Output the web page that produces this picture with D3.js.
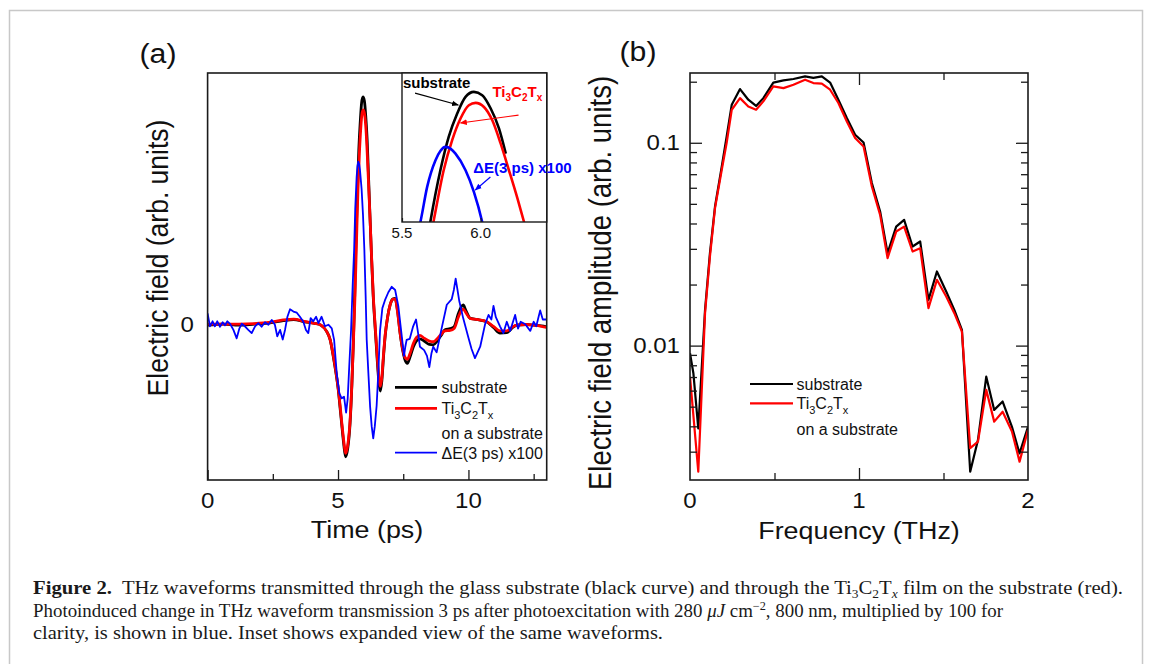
<!DOCTYPE html>
<html><head><meta charset="utf-8">
<script src="https://cdn.jsdelivr.net/npm/d3@7"></script>
<style>body{margin:0;background:#fff} svg{display:block} text{white-space:pre}</style>
</head><body><svg id="c" width="1152" height="664"></svg>
<script>
// ---------- DATA ----------
// Panel (a): waveforms (arb. units, normalized to substrate peak)
const timeSub = [0,0.6,1.2,1.8,2.4,2.9,3.3,3.7,4.1,4.35,4.55,4.7,4.82,4.92,5.01,5.08,5.14,5.22,5.29,5.37,5.46,5.53,5.59,5.64,5.68,5.744,5.797,5.851,5.904,5.957,6.01,6.064,6.117,6.16,6.22,6.29,6.35,6.42,6.51,6.57,6.62,6.68,6.74,6.81,6.9,7.0,7.1,7.19,7.28,7.38,7.47,7.56,7.66,7.76,7.89,8.0,8.14,8.3,8.5,8.65,8.8,8.95,9.1,9.3,9.45,9.61,9.72,9.8,9.9,10.06,10.32,10.7,10.96,11.21,11.47,11.7,11.85,12.2,12.49,12.8,13];
const eSub = [-0.005,0,-0.005,0,0.005,0.015,0.02,0.01,0.003,-0.005,-0.03,-0.07,-0.144,-0.215,-0.29,-0.37,-0.44,-0.53,-0.585,-0.55,-0.44,-0.27,-0.07,0.13,0.326,0.594,0.767,0.888,0.974,1.0,0.983,0.914,0.81,0.68,0.49,0.28,0.12,-0.01,-0.17,-0.26,-0.295,-0.25,-0.15,-0.05,0.03,0.085,0.11,0.113,0.06,-0.04,-0.11,-0.155,-0.173,-0.145,-0.10,-0.075,-0.065,-0.075,-0.09,-0.092,-0.075,-0.05,-0.025,-0.02,-0.012,0.045,0.075,0.084,0.06,0.026,0.02,0.01,-0.015,-0.04,-0.038,-0.015,-0.005,-0.002,-0.005,-0.008,-0.012];
const timeTi = [0,0.6,1.2,1.8,2.4,2.9,3.3,3.7,4.1,4.35,4.55,4.7,4.82,4.92,5.01,5.08,5.14,5.22,5.29,5.37,5.46,5.53,5.59,5.65,5.70,5.765,5.819,5.872,5.925,5.968,6.021,6.074,6.127,6.18,6.234,6.276,6.35,6.42,6.51,6.57,6.62,6.68,6.74,6.81,6.9,7.0,7.1,7.19,7.28,7.38,7.47,7.56,7.66,7.76,7.89,8.0,8.14,8.3,8.5,8.65,8.8,8.95,9.1,9.3,9.45,9.61,9.72,9.8,9.9,10.06,10.32,10.7,10.96,11.21,11.47,11.7,11.85,12.2,12.49,12.8,13];
const eTi = [0,0,0,0.002,0.008,0.018,0.022,0.012,0.003,-0.005,-0.03,-0.07,-0.14,-0.21,-0.285,-0.36,-0.43,-0.515,-0.57,-0.535,-0.43,-0.265,-0.08,0.12,0.326,0.594,0.75,0.862,0.931,0.943,0.922,0.853,0.733,0.594,0.448,0.326,0.13,0.0,-0.155,-0.24,-0.275,-0.235,-0.14,-0.045,0.03,0.085,0.11,0.11,0.055,-0.04,-0.105,-0.145,-0.155,-0.13,-0.085,-0.06,-0.05,-0.062,-0.075,-0.078,-0.065,-0.045,-0.03,-0.028,-0.02,0.03,0.058,0.066,0.05,0.025,0.02,0.01,-0.01,-0.03,-0.03,-0.012,-0.005,-0.002,-0.005,-0.01,-0.015];
const timeDE = [0,0.09,0.19,0.28,0.37,0.476,0.578,0.667,0.757,0.86,0.99,1.115,1.22,1.31,1.43,1.56,1.69,1.82,1.945,2.07,2.2,2.33,2.46,2.58,2.67,2.78,2.88,2.97,3.06,3.16,3.29,3.42,3.54,3.67,3.77,3.86,3.95,4.05,4.16,4.25,4.37,4.5,4.63,4.76,4.85,4.95,5.05,5.14,5.23,5.31,5.37,5.43,5.5,5.56,5.617,5.66,5.713,5.745,5.776,5.81,5.84,5.904,5.957,6.01,6.06,6.1,6.17,6.23,6.29,6.35,6.41,6.48,6.55,6.61,6.7,6.8,6.93,7.06,7.19,7.31,7.44,7.53,7.58,7.63,7.75,7.88,7.99,8.07,8.14,8.3,8.41,8.5,8.58,8.65,8.78,8.97,9.17,9.36,9.44,9.51,9.58,9.65,9.8,10.0,10.12,10.25,10.45,10.64,10.77,10.88,10.96,11.05,11.21,11.34,11.47,11.6,11.79,11.9,12.0,12.17,12.37,12.5,12.6,12.75,12.85,13.0];
const eDE = [0.047,-0.01,0.012,-0.01,0.012,-0.012,0.008,-0.006,0.012,0.001,-0.026,-0.063,-0.019,0.001,-0.01,-0.026,-0.04,-0.01,0.004,-0.012,0.008,-0.003,0.018,-0.003,-0.054,-0.026,-0.068,-0.025,0.032,0.065,0.055,0.05,0.032,0.01,-0.026,-0.04,0.026,0.012,0.032,0.004,0.032,-0.01,-0.003,-0.019,-0.07,-0.217,-0.305,-0.327,-0.32,-0.39,-0.33,-0.187,-0.026,0.165,0.326,0.508,0.646,0.695,0.715,0.705,0.68,0.594,0.482,0.326,0.12,-0.07,-0.23,-0.364,-0.45,-0.504,-0.45,-0.36,-0.2,-0.03,0.07,0.105,0.14,0.164,0.15,0.08,-0.05,-0.14,-0.10,-0.07,-0.065,-0.01,0.02,-0.04,-0.10,-0.115,-0.14,-0.19,-0.13,-0.10,-0.125,-0.02,0.085,0.11,0.15,0.20,0.15,0.10,0.025,-0.06,-0.11,-0.15,-0.10,0.0,0.04,0.02,0.08,0.03,-0.01,-0.04,0.01,-0.03,0.04,-0.02,0.01,0.0,-0.03,0.01,-0.01,0.06,0.02,0.02];
const insetSubEnd = 6.16;              // substrate trace in the inset stops here
// Panel (b): spectra
const freqSub = [0,0.02,0.049,0.089,0.118,0.148,0.188,0.217,0.247,0.296,0.345,0.391,0.434,0.493,0.553,0.612,0.681,0.730,0.780,0.829,0.878,0.928,0.977,1.027,1.076,1.125,1.169,1.22,1.267,1.317,1.362,1.411,1.461,1.516,1.564,1.609,1.658,1.704,1.753,1.8,1.85,1.905,1.95,2.0];
const ampSub = [0.00918,0.00731,0.00391,0.0150,0.0286,0.0485,0.0764,0.1074,0.154,0.184,0.163,0.152,0.166,0.198,0.203,0.2063,0.2125,0.209,0.2125,0.198,0.163,0.1324,0.1095,0.1003,0.0633,0.0458,0.0286,0.0386,0.0417,0.0308,0.0326,0.0168,0.0232,0.01847,0.0150,0.01195,0.00239,0.00343,0.00703,0.00482,0.0053,0.00398,0.00294,0.00398];
const freqTi = [0,0.049,0.089,0.118,0.148,0.188,0.217,0.247,0.296,0.345,0.391,0.434,0.493,0.553,0.612,0.681,0.730,0.780,0.829,0.878,0.928,0.977,1.027,1.076,1.125,1.169,1.22,1.267,1.317,1.362,1.411,1.461,1.516,1.564,1.609,1.658,1.704,1.753,1.8,1.85,1.905,1.95,2.0];
const ampTi = [0.00703,0.00239,0.01445,0.0275,0.0476,0.0736,0.1,0.1455,0.166,0.151,0.1455,0.160,0.1896,0.186,0.1932,0.2046,0.197,0.1955,0.1826,0.157,0.1274,0.1055,0.0959,0.0609,0.0441,0.0270,0.0365,0.0386,0.0291,0.0302,0.0153,0.0211,0.01745,0.01445,0.01173,0.00312,0.00336,0.00605,0.00422,0.00472,0.00377,0.00268,0.00384];
// Ticks
const timeMajor = [0,5,10], timeMinor = [2.5,7.5,12.5];
const efieldTicks = [0];
const insetTicks = [5.5,6.0];
const freqMajor = [0,1,2], freqMinor = [0.5,1.5];
const ampMajor = [0.01,0.1];
const ampMinor = [0.003,0.004,0.005,0.006,0.007,0.008,0.009,0.02,0.03,0.04,0.05,0.06,0.07,0.08,0.09,0.2];

// ---------- DRAW ----------
const svg = d3.select('#c');
const FONT = '"Liberation Sans", Arial, Helvetica, sans-serif';
const SERIF = '"Liberation Serif", "Times New Roman", serif';
const BLACK='#000', RED='#ff0000', BLUE='#0000ff', AX='#1a1a1a';
const zip = (a,b)=>a.map((v,i)=>[v,b[i]]);

svg.append('rect').attr('x',9.5).attr('y',10.5).attr('width',1133).attr('height',700)
  .attr('fill','none').attr('stroke','#c8c8c8').attr('stroke-width',1.5);

function rich(t, parts, subSize, shift){
  let cur=0;
  parts.forEach(p=>{
    const ts=t.append('tspan').text(p.t);
    const target = p.sub? shift : (p.sup? -shift*1.6 : 0);
    if(target!==cur) ts.attr('dy', target-cur);
    cur=target;
    if(p.sub||p.sup) ts.attr('font-size',subSize);
    if(p.b) ts.attr('font-weight','bold');
    if(p.i) ts.attr('font-style','italic');
  });
}
const SX = 1.12; // horizontal stretch of the original figure's lettering
function label(g, x, y, str, size, anchor, rot){
  const gg = g.append('g').attr('transform', `translate(${x},${y}) scale(${SX},1)` + (rot?` rotate(${rot})`:''));
  return gg.append('text').attr('font-family',FONT).attr('font-size',size)
    .attr('text-anchor',anchor||'middle').attr('fill','#111').text(str);
}

// ===== Panel (a) =====
const A = {l:207.6, r:546.7, t:73, b:480};
const xA = d3.scaleLinear().domain([0,13]).range([A.l,A.r]);
const yA = d3.scaleLinear().domain([-0.687,1.1057]).range([A.b,A.t]);
const gA = svg.append('g');
svg.append('clipPath').attr('id','clipA').append('rect')
  .attr('x',A.l).attr('y',A.t).attr('width',A.r-A.l).attr('height',A.b-A.t);
const lineA = d3.line().x(d=>xA(d[0])).y(d=>yA(d[1])).curve(d3.curveMonotoneX);
const lineAlin = d3.line().x(d=>xA(d[0])).y(d=>yA(d[1]));
const pA = gA.append('g').attr('clip-path','url(#clipA)');
pA.append('path').attr('d',lineA(zip(timeSub,eSub))).attr('fill','none').attr('stroke',BLACK).attr('stroke-width',2.8).attr('stroke-linejoin','round');
pA.append('path').attr('d',lineA(zip(timeTi,eTi))).attr('fill','none').attr('stroke',RED).attr('stroke-width',2.8).attr('stroke-linejoin','round');
pA.append('path').attr('d',lineAlin(zip(timeDE,eDE))).attr('fill','none').attr('stroke',BLUE).attr('stroke-width',1.8).attr('stroke-linejoin','round');

// axes (inside ticks)
gA.append('g').attr('transform',`translate(0,${A.b})`)
  .call(d3.axisBottom(xA).tickValues(timeMajor).tickSize(-10).tickFormat(''))
  .call(g=>g.select('.domain').remove()).selectAll('line').attr('stroke',AX).attr('stroke-width',1.3);
gA.append('g').attr('transform',`translate(0,${A.b})`)
  .call(d3.axisBottom(xA).tickValues(timeMinor).tickSize(-6).tickFormat(''))
  .call(g=>g.select('.domain').remove()).selectAll('line').attr('stroke',AX).attr('stroke-width',1.3);
gA.append('rect').attr('x',A.l).attr('y',A.t).attr('width',A.r-A.l).attr('height',A.b-A.t)
  .attr('fill','none').attr('stroke',AX).attr('stroke-width',1.6);
timeMajor.forEach(v=>label(gA, xA(v), 508, String(v), 21.5));
efieldTicks.forEach(v=>label(gA, 194, yA(v)+7.5, String(v), 21.5, 'end'));
label(gA, 367, 538, 'Time (ps)', 24);
label(gA, 168, 258, 'Electric field (arb. units)', 26.5, 'middle', -90);
label(svg, 158, 63, '(a)', 27);

// inset
const I = {l:402, r:546.7, t:73, b:222};
const xI = d3.scaleLinear().domain([5.5,6.42]).range([I.l,I.r]);
const yI = d3.scaleLinear().domain([0.326,1.098]).range([I.b,I.t]);
svg.append('clipPath').attr('id','clipI').append('rect')
  .attr('x',I.l).attr('y',I.t).attr('width',I.r-I.l).attr('height',I.b-I.t);
const gI = svg.append('g');
gI.append('rect').attr('x',I.l).attr('y',I.t).attr('width',I.r-I.l).attr('height',I.b-I.t).attr('fill','#fff');
const lineI = d3.line().x(d=>xI(d[0])).y(d=>yI(d[1])).curve(d3.curveMonotoneX);
const pI = gI.append('g').attr('clip-path','url(#clipI)');
pI.append('path').attr('d',lineI(zip(timeSub,eSub).filter(d=>d[0]<=insetSubEnd))).attr('fill','none').attr('stroke',BLACK).attr('stroke-width',2.6);
pI.append('path').attr('d',lineI(zip(timeTi,eTi))).attr('fill','none').attr('stroke',RED).attr('stroke-width',2.6);
pI.append('path').attr('d',lineI(zip(timeDE,eDE))).attr('fill','none').attr('stroke',BLUE).attr('stroke-width',2.6);
gI.append('rect').attr('x',I.l).attr('y',I.t).attr('width',I.r-I.l).attr('height',I.b-I.t)
  .attr('fill','none').attr('stroke',AX).attr('stroke-width',1.4);
gI.append('g').attr('transform',`translate(0,${I.b})`)
  .call(d3.axisBottom(xI).tickValues(insetTicks).tickSize(-4).tickFormat(''))
  .call(g=>g.select('.domain').remove()).selectAll('line').attr('stroke',AX).attr('stroke-width',1.2);
insetTicks.forEach(v=>gI.append('text').attr('x',xI(v)).attr('y',238).attr('text-anchor','middle')
  .attr('font-family',FONT).attr('font-size',15).attr('fill','#111').text(v.toFixed(1)));

// inset annotations (in inset data coordinates)
const defs = svg.append('defs');
[['k',BLACK],['r',RED],['b',BLUE]].forEach(([id,c])=>{
  defs.append('marker').attr('id','ar'+id).attr('viewBox','0 0 10 10').attr('refX',9).attr('refY',5)
    .attr('markerWidth',7).attr('markerHeight',7).attr('markerUnits','userSpaceOnUse').attr('orient','auto')
    .append('path').attr('d','M0,1 L10,5 L0,9 Z').attr('fill',c);
});
const arrows = [
  {c:BLACK,m:'k',from:[5.583,0.994],to:[5.858,0.932]},
  {c:RED,m:'r',from:[6.241,0.880],to:[5.872,0.839]},
  {c:BLUE,m:'b',from:[6.062,0.559],to:[5.966,0.492]}
];
arrows.forEach(a=>gI.append('line').attr('x1',xI(a.from[0])).attr('y1',yI(a.from[1]))
  .attr('x2',xI(a.to[0])).attr('y2',yI(a.to[1])).attr('stroke',a.c).attr('stroke-width',1.2)
  .attr('marker-end',`url(#ar${a.m})`));
gI.append('text').attr('x',xI(5.506)).attr('y',yI(1.022)).attr('font-family',FONT).attr('font-size',15)
  .attr('font-weight','bold').attr('fill',BLACK).text('substrate');
rich(gI.append('text').attr('x',xI(6.075)).attr('y',yI(0.974)).attr('font-family',FONT).attr('font-size',15)
  .attr('font-weight','bold').attr('fill',RED),
  [{t:'Ti'},{t:'3',sub:1},{t:'C'},{t:'2',sub:1},{t:'T'},{t:'x',sub:1}], 10, 4);
gI.append('text').attr('x',xI(5.953)).attr('y',yI(0.578)).attr('font-family',FONT).attr('font-size',15)
  .attr('font-weight','bold').attr('fill',BLUE).text('ΔE(3 ps) x100');

// legend (a)
const legA = svg.append('g').attr('font-family',FONT).attr('font-size',16).attr('fill','#111');
[[387.3,BLACK,2.8],[408.3,RED,2.8],[452.7,BLUE,1.8]].forEach(([y,c,w])=>
  legA.append('line').attr('x1',395).attr('x2',437).attr('y1',y).attr('y2',y).attr('stroke',c).attr('stroke-width',w));
legA.append('text').attr('x',441.5).attr('y',393.3).text('substrate');
rich(legA.append('text').attr('x',441.5).attr('y',413.5),
  [{t:'Ti'},{t:'3',sub:1},{t:'C'},{t:'2',sub:1},{t:'T'},{t:'x',sub:1}], 11, 5);
legA.append('text').attr('x',441.5).attr('y',438.5).text('on a substrate');
legA.append('text').attr('x',441.5).attr('y',458.5).text('ΔE(3 ps) x100');

// ===== Panel (b) =====
const B = {l:690, r:1028, t:73, b:480};
const xB = d3.scaleLinear().domain([0,2]).range([B.l,B.r]);
const yB = d3.scaleLog().domain([0.002175,0.2208]).range([B.b,B.t]);
const gB = svg.append('g');
svg.append('clipPath').attr('id','clipB').append('rect')
  .attr('x',B.l).attr('y',B.t).attr('width',B.r-B.l).attr('height',B.b-B.t);
const lineB = d3.line().x(d=>xB(d[0])).y(d=>yB(d[1]));
const pB = gB.append('g').attr('clip-path','url(#clipB)');
pB.append('path').attr('d',lineB(zip(freqSub,ampSub))).attr('fill','none').attr('stroke',BLACK).attr('stroke-width',2.2).attr('stroke-linejoin','round');
pB.append('path').attr('d',lineB(zip(freqTi,ampTi))).attr('fill','none').attr('stroke',RED).attr('stroke-width',2.2).attr('stroke-linejoin','round');
function ticks(g, axis, tr, vals, size){
  g.append('g').attr('transform',tr).call(axis.tickValues(vals).tickSize(size).tickFormat(''))
   .call(s=>s.select('.domain').remove()).selectAll('line').attr('stroke',AX).attr('stroke-width',1.3);
}
ticks(gB, d3.axisBottom(xB), `translate(0,${B.b})`, freqMinor, -7);
ticks(gB, d3.axisBottom(xB), `translate(0,${B.b})`, [1], -12);
ticks(gB, d3.axisTop(xB), `translate(0,${B.t})`, freqMinor, -7);
ticks(gB, d3.axisTop(xB), `translate(0,${B.t})`, [1], -12);
ticks(gB, d3.axisLeft(yB), `translate(${B.l},0)`, ampMinor, -7);
ticks(gB, d3.axisLeft(yB), `translate(${B.l},0)`, ampMajor, -12);
ticks(gB, d3.axisRight(yB), `translate(${B.r},0)`, ampMinor, -7);
ticks(gB, d3.axisRight(yB), `translate(${B.r},0)`, ampMajor, -12);
gB.append('rect').attr('x',B.l).attr('y',B.t).attr('width',B.r-B.l).attr('height',B.b-B.t)
  .attr('fill','none').attr('stroke',AX).attr('stroke-width',1.6);
freqMajor.forEach(v=>label(gB, xB(v), 508, String(v), 21.5));
ampMajor.forEach(v=>label(gB, 680, yB(v)+7.5, String(v), 21.5, 'end'));
label(gB, 859, 539, 'Frequency (THz)', 24);
label(gB, 611, 283, 'Electric field amplitude (arb. units)', 27.5, 'middle', -90);
label(svg, 638, 61, '(b)', 27);

// legend (b)
const legB = svg.append('g').attr('font-family',FONT).attr('font-size',16).attr('fill','#111');
[[384,BLACK],[403.3,RED]].forEach(([y,c])=>
  legB.append('line').attr('x1',750).attr('x2',793).attr('y1',y).attr('y2',y).attr('stroke',c).attr('stroke-width',2.2));
legB.append('text').attr('x',796.5).attr('y',389.5).text('substrate');
rich(legB.append('text').attr('x',796.5).attr('y',408.5),
  [{t:'Ti'},{t:'3',sub:1},{t:'C'},{t:'2',sub:1},{t:'T'},{t:'x',sub:1}], 11, 5);
legB.append('text').attr('x',796.5).attr('y',435).text('on a substrate');

// ===== Caption =====
const cap = svg.append('g').attr('font-family',SERIF).attr('font-size',18.5).attr('fill','#1a1a1a');
const c1 = cap.append('text').attr('x',33).attr('y',594).attr('textLength',1090).attr('lengthAdjust','spacingAndGlyphs');
rich(c1,[{t:'Figure 2.',b:1},{t:'  THz waveforms transmitted through the glass substrate (black curve) and through the Ti'},{t:'3',sub:1},{t:'C'},{t:'2',sub:1},{t:'T'},{t:'x',sub:1,i:1},{t:' film on the substrate (red).'}],12,4);
const c2 = cap.append('text').attr('x',33).attr('y',616.5).attr('textLength',970).attr('lengthAdjust','spacingAndGlyphs');
rich(c2,[{t:'Photoinduced change in THz waveform transmission 3 ps after photoexcitation with 280 '},{t:'μJ',i:1},{t:' cm'},{t:'−2',sup:1},{t:', 800 nm, multiplied by 100 for'}],12,4);
const c3 = cap.append('text').attr('x',33).attr('y',639).attr('textLength',630).attr('lengthAdjust','spacingAndGlyphs')
  .text('clarity, is shown in blue. Inset shows expanded view of the same waveforms.');
</script></body></html>
